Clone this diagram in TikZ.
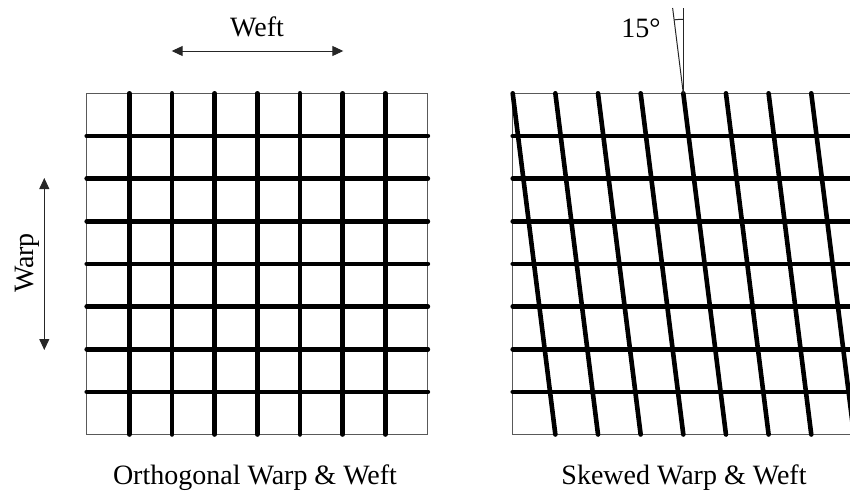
\documentclass[tikz,border=0pt]{standalone}
\usepackage{fontspec}
\setmainfont{Liberation Serif}
\usetikzlibrary{arrows.meta}

\begin{document}
\begin{tikzpicture}[
  x=0.5pt, y=-0.5pt,
  frame/.style={draw=black!65, line width=0.5pt},
  yarn/.style={line width=2.3pt, line cap=round},
  thin/.style={draw=black!85, line width=0.5pt},
  dir/.style={{Triangle[length=5.5pt,width=5pt]}-{Triangle[length=5.5pt,width=5pt]}, draw=black!85, line width=0.5pt},
  lbl/.style={font=\fontsize{14}{16}\selectfont, inner sep=0pt, anchor=base}
]
\clip (0,0) rectangle (850,493);
\def\cell{42.65}

% orthogonal grid
\draw[frame] (86.7,93.3) rectangle ++(8*\cell,8*\cell);
\foreach \k in {1,...,7}{
  \draw[yarn] (86.7+\k*\cell,93.3) -- ++(0,8*\cell);
  \draw[yarn] (86.7,93.3+\k*\cell) -- ++(8*\cell,0);
}

% skewed grid
\draw[frame] (512.7,93.3) rectangle ++(8*\cell,8*\cell);
\foreach \k in {0,...,7}{
  \draw[yarn] (512.7+\k*\cell,93.3) -- ++(\cell,8*\cell);
}
\foreach \k in {1,...,7}{
  \draw[yarn] (512.7,93.3+\k*\cell) -- ++(8*\cell,0);
}

% direction arrows
\coordinate (weftL) at (171.7,51);
\coordinate (weftR) at (343.3,51);
\coordinate (warpT) at (44.3,178);
\coordinate (warpB) at (44.3,350);
\draw[dir] (weftL) -- (weftR);
\draw[dir] (warpT) -- (warpB);
\node[lbl] (weft) at (257,36) {Weft};
\node[lbl, rotate=90] (warp) at (33,263) {Warp};

% skew angle
\coordinate (apex) at (512.7+4*\cell,93.3);
\coordinate (vtop) at (512.7+4*\cell,8);
\coordinate (stop) at (512.7+4*\cell-10.66,8);
\draw[thin] (apex) -- (vtop);
\draw[thin] (apex) -- (stop);
\draw[thin] (apex) ++(0,-74) arc[start angle=270, end angle=262.87, radius=74];
\node[lbl] (deg) at (641,37) {15°};

% captions
\node[lbl] (ortho) at (255,484) {Orthogonal Warp \& Weft};
\node[lbl] (skew) at (684,484) {Skewed Warp \& Weft};
\end{tikzpicture}
\end{document}
